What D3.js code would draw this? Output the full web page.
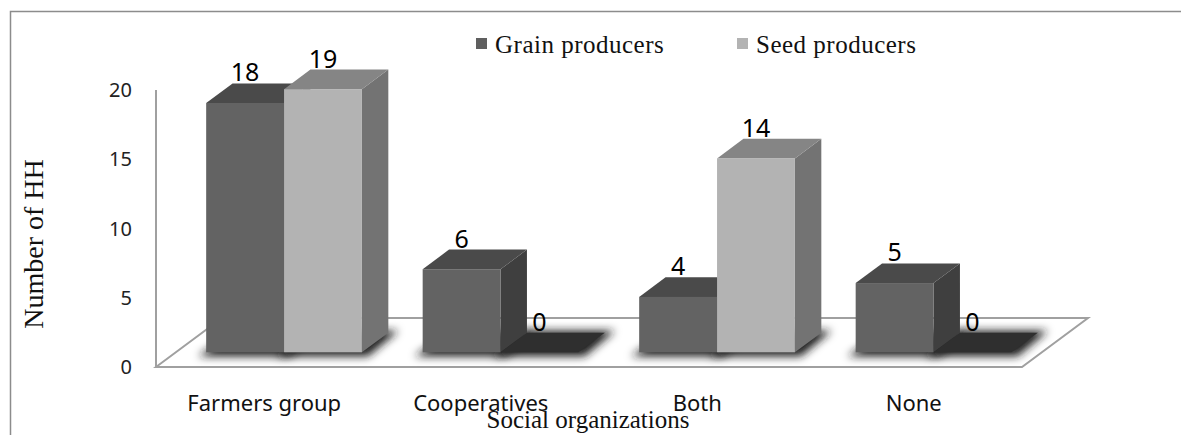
<!DOCTYPE html>
<meta charset="utf-8">
<head>
  <script src="https://d3js.org/d3.v7.min.js"></script>
</head>
<style>
body { margin: 0; background: #fff; }
.tick-label { font-family: "Noto Sans", sans-serif; font-size: 20px; fill: #222; }
.cat-label { font-family: "Noto Sans", sans-serif; font-size: 22px; fill: #111; }
.value-label { font-family: "Noto Sans", sans-serif; font-size: 25px; fill: #000; }
.serif { font-family: "Liberation Serif", "Times New Roman", serif; fill: #111; }
</style>
<body>
<svg width="1181" height="435" id="chart"></svg>
<script>

// data
var categories = ["Farmers group", "Cooperatives", "Both", "None"];
var grainProducers = [18, 6, 4, 5];
var seedProducers = [19, 0, 14, 0];
var seriesNames = ["Grain producers", "Seed producers"];
var yTicks = [0, 5, 10, 15, 20];

var svg = d3.select('#chart');

// colours for the faces of each series
var colors = {
  "Grain producers": {front: "#636363", top: "#4a4a4a", side: "#3f3f3f", legend: "#5f5f5f"},
  "Seed producers": {front: "#b3b3b3", top: "#858585", side: "#737373", legend: "#b3b3b3"}
};

// floor geometry (front edge and depth vector)
var floorLeft = 156, floorRight = 1022,
    depthX = 66, depthY = -49,
    d0 = 0.3, d1 = 0.7;   // bars go from 30% to 70% of the depth

var xScale = d3.scaleBand().domain(categories).range([floorLeft, floorRight]);
var subScale = d3.scaleBand().domain(seriesNames).range([0, xScale.bandwidth()])
                 .paddingInner(0).paddingOuter(0.39);
var yScale = d3.scaleLinear().domain([0, 20]).range([367, 90]);

function px(x, d) { return x + d * depthX; }
function py(y, d) { return y + d * depthY; }

var defs = svg.append('defs');
defs.append('filter').attr('id', 'blur')
    .attr('x', '-20%').attr('y', '-50%').attr('width', '140%').attr('height', '200%')
    .append('feGaussianBlur').attr('stdDeviation', 4);

// outer frame
svg.append('path')
   .attr('d', 'M10.5,435 L10.5,11.5 L1181,11.5')
   .attr('fill', 'none').attr('stroke', '#8c8c8c').attr('stroke-width', 1.5);

// wall line
svg.append('line')
   .attr('x1', floorLeft).attr('x2', floorLeft)
   .attr('y1', yScale(20)).attr('y2', yScale(0))
   .attr('stroke', '#a0a0a0').attr('stroke-width', 2);

// floor
var y0 = yScale(0);
svg.append('polygon')
   .attr('points', [[floorLeft, y0], [px(floorLeft, 1), py(y0, 1)],
                    [px(floorRight, 1), py(y0, 1)], [floorRight, y0]].join(' '))
   .attr('fill', '#fff').attr('stroke', '#a0a0a0').attr('stroke-width', 2);

// flatten data to bars
var bars = [];
categories.forEach(function(c, i) {
  bars.push({cat: c, series: seriesNames[0], value: grainProducers[i]});
  bars.push({cat: c, series: seriesNames[1], value: seedProducers[i]});
});

var barW = subScale.bandwidth();
var dd = d1 - d0;

function geom(d) {
  var xf = px(xScale(d.cat) + subScale(d.series), d0);
  var yb = py(y0, d0);
  var h = y0 - yScale(d.value);
  return {x: xf, yb: yb, yt: yb - h, w: barW};
}

// shadows on the floor
svg.append('g').selectAll('polygon')
   .data(bars)
   .enter().append('polygon')
   .attr('points', function(d) {
     var g = geom(d);
     return [[g.x - 8, g.yb + 4], [px(g.x, dd) + 4, py(g.yb, dd) - 2],
             [px(g.x + g.w, dd) + 10, py(g.yb, dd) - 2], [g.x + g.w + 6, g.yb + 4]].join(' ');
   })
   .attr('fill', '#1e1e1e')
   .attr('filter', 'url(#blur)');

var barG = svg.append('g').selectAll('g')
   .data(bars)
   .enter().append('g');

barG.filter(function(d) { return d.value > 0; }).append('polygon')   // side
    .attr('points', function(d) {
      var g = geom(d);
      return [[g.x + g.w, g.yb], [px(g.x + g.w, dd), py(g.yb, dd)],
              [px(g.x + g.w, dd), py(g.yt, dd)], [g.x + g.w, g.yt]].join(' ');
    })
    .attr('fill', function(d) { return colors[d.series].side; });

barG.append('polygon')   // top
    .attr('points', function(d) {
      var g = geom(d);
      return [[g.x, g.yt], [px(g.x, dd), py(g.yt, dd)],
              [px(g.x + g.w, dd), py(g.yt, dd)], [g.x + g.w, g.yt]].join(' ');
    })
    .attr('fill', function(d) { return d.value > 0 ? colors[d.series].top : '#2f2f2f'; });

barG.filter(function(d) { return d.value > 0; }).append('rect')   // front
    .attr('x', function(d) { return geom(d).x; })
    .attr('y', function(d) { return geom(d).yt; })
    .attr('width', barW)
    .attr('height', function(d) { return geom(d).yb - geom(d).yt; })
    .attr('fill', function(d) { return colors[d.series].front; });

// value labels
barG.append('text')
    .attr('class', 'value-label')
    .attr('text-anchor', 'middle')
    .attr('x', function(d) { return geom(d).x + barW / 2; })
    .attr('y', function(d) { return py(geom(d).yt, dd) - 2; })
    .text(function(d) { return d.value; });

// y tick labels
svg.append('g').selectAll('text')
   .data(yTicks)
   .enter().append('text')
   .attr('class', 'tick-label')
   .attr('text-anchor', 'end')
   .attr('x', 132)
   .attr('y', function(d) { return yScale(d) + 7; })
   .text(function(d) { return d; });

// category labels
svg.append('g').selectAll('text')
   .data(categories)
   .enter().append('text')
   .attr('class', 'cat-label')
   .attr('text-anchor', 'middle')
   .attr('x', function(d) { return xScale(d) + xScale.bandwidth() / 2; })
   .attr('y', 411)
   .text(function(d) { return d; });

// axis titles
svg.append('text')
   .attr('class', 'serif')
   .attr('text-anchor', 'middle')
   .attr('x', 588).attr('y', 428)
   .style('font-size', '25px')
   .text('Social organizations');

svg.append('text')
   .attr('class', 'serif')
   .attr('text-anchor', 'middle')
   .attr('transform', 'translate(43,244) rotate(-90)')
   .style('font-size', '28px')
   .text('Number of HH');

// legend
var legendX = [476, 737];
var legend = svg.append('g').selectAll('g')
   .data(seriesNames)
   .enter().append('g')
   .attr('transform', function(d, i) { return 'translate(' + legendX[i] + ',38)'; });

legend.append('rect')
      .attr('width', 11).attr('height', 11)
      .attr('fill', function(d) { return colors[d].legend; });

legend.append('text')
      .attr('class', 'serif')
      .attr('x', 19).attr('y', 15)
      .style('font-size', '25px')
      .style('letter-spacing', '0.5px')
      .text(function(d) { return d; });

</script>
</body>
